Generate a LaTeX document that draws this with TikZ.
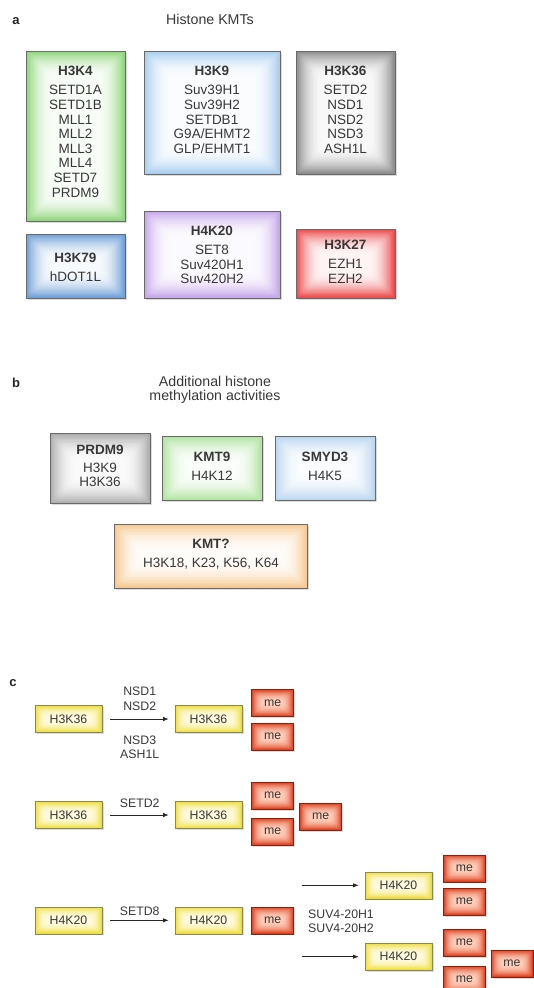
\documentclass[tikz,border=0pt]{standalone}
\usepackage{fontspec}
\setmainfont{Liberation Sans}
\usetikzlibrary{shadows,arrows.meta}
\definecolor{txtc}{HTML}{383838}
\definecolor{boxline}{HTML}{6A6A6A}
\definecolor{cgreen}{HTML}{8ED67A}
\definecolor{clblue}{HTML}{A8CDEF}
\definecolor{cgray}{HTML}{8C8C8C}
\definecolor{cblue}{HTML}{6F9FD8}
\definecolor{clav}{HTML}{C5A6EA}
\definecolor{cred}{HTML}{EC4A4A}
\definecolor{cgray2}{HTML}{ADADAD}
\definecolor{cgreen2}{HTML}{B0E4A0}
\definecolor{cblue2}{HTML}{BAD6F0}
\definecolor{cpeach}{HTML}{F6C890}
\definecolor{cyel}{HTML}{EEDC30}
\definecolor{cyelin}{HTML}{FFFCE6}
\definecolor{yelline}{HTML}{8A8A50}
\definecolor{cme}{HTML}{DD3A18}
\definecolor{cmein}{HTML}{FFD8C4}
\definecolor{meline}{HTML}{8A2210}
\tikzset{
  shd/.style={drop shadow={shadow xshift=1.5pt, shadow yshift=-1.5pt, opacity=0.28}},
  glowrect/.style n args={3}{fill=#1, path picture={
      \foreach \i [evaluate=\i as \p using {6+94*(1-\i/20)^2}, evaluate=\i as \r using {\i*#3/20}, evaluate=\i as \q using {min(\i*#3/20,3.5)}] in {1,...,20}{
        \fill[#1!\p!#2, rounded corners=\q pt] ([shift={(\r pt,-\r pt)}]path picture bounding box.north west)
          rectangle ([shift={(-\r pt,\r pt)}]path picture bounding box.south east);}}},
  kbox/.style={draw=boxline, line width=0.7pt, inner sep=0pt, shd, glowrect={#1}{white}{26}},
  boxtxt/.style={text=txtc, align=center, inner sep=0pt, font={\fontsize{13.5}{14.6}\selectfont}},
  yel/.style={draw=yelline, line width=0.6pt, inner sep=0pt, minimum width=67pt, minimum height=27pt,
    shd, glowrect={cyel}{cyelin}{11}, text=txtc, font={\fontsize{12.3}{14}\selectfont}},
  mebox/.style={draw=meline, line width=0.6pt, inner sep=0pt, minimum width=42pt, minimum height=27pt,
    shd, glowrect={cme}{cmein}{12}, text=txtc, font={\fontsize{12.3}{14}\selectfont}},
  lbl/.style={text=txtc, align=center, inner sep=0pt, font={\fontsize{12.3}{14.3}\selectfont}},
  arr/.style={draw=black!85, line width=0.6pt, -{Latex[length=5.5pt,width=4.2pt]}},
  plet/.style={font={\fontsize{13}{14}\selectfont\bfseries}, inner sep=0pt, text=black!85},
  ttl/.style={text=txtc, align=center, inner sep=0pt, font={\fontsize{14.2}{14.6}\selectfont}}
}
\begin{document}
\begin{tikzpicture}[x={(1pt,0pt)}, y={(0pt,-1pt)}]
\useasboundingbox[fill=white] (0,0) rectangle (533,988);

% ---------- panel a ----------
\node[plet] (la) at (16,21) {a};
\node[ttl] (ta) at (210,19.3) {Histone KMTs};

\node[kbox=cgreen, minimum width=99pt, minimum height=170pt] (k4) at (75.5,136) {};
\node[kbox=clblue, minimum width=136pt, minimum height=123pt] (k9) at (212,112.5) {};
\node[kbox=cgray, minimum width=99pt, minimum height=123pt] (k36) at (345.5,112.5) {};
\node[kbox=cblue, minimum width=99pt, minimum height=64pt] (k79) at (75.5,266) {};
\node[kbox=clav, minimum width=136pt, minimum height=87pt] (k20) at (212,254.5) {};
\node[kbox=cred, minimum width=99pt, minimum height=69pt] (k27) at (345.5,263.5) {};

\node[boxtxt, anchor=north] (k4t) at (75.5,66.2) {\textbf{H3K4}\\[4.4pt]SETD1A\\SETD1B\\MLL1\\MLL2\\MLL3\\MLL4\\SETD7\\PRDM9};
\node[boxtxt, anchor=north] (k9t) at (212,66.2) {\textbf{H3K9}\\[4.4pt]Suv39H1\\Suv39H2\\SETDB1\\G9A/EHMT2\\GLP/EHMT1};
\node[boxtxt, anchor=north] (k36t) at (345.5,66.2) {\textbf{H3K36}\\[4.4pt]SETD2\\NSD1\\NSD2\\NSD3\\ASH1L};
\node[boxtxt, anchor=north] (k79t) at (75.5,252.9) {\textbf{H3K79}\\[4.4pt]hDOT1L};
\node[boxtxt, anchor=north] (k20t) at (212,225.9) {\textbf{H4K20}\\[4.4pt]SET8\\Suv420H1\\Suv420H2};
\node[boxtxt, anchor=north] (k27t) at (345.5,240.2) {\textbf{H3K27}\\[4.4pt]EZH1\\EZH2};

% ---------- panel b ----------
\node[plet] (lb) at (16,382.7) {b};
\node[ttl] (tb) at (215,390) {Additional histone\\methylation activities};

\node[kbox=cgray2, minimum width=100pt, minimum height=70pt] (pr) at (100,468.7) {};
\node[kbox=cgreen2, minimum width=100pt, minimum height=64pt] (km9) at (212,468.5) {};
\node[kbox=cblue2, minimum width=100pt, minimum height=64pt] (sm) at (325,468.5) {};
\node[kbox=cpeach, minimum width=193pt, minimum height=64pt] (kq) at (211,556) {};

\node[boxtxt, anchor=north] (prt) at (100,444.5) {\textbf{PRDM9}\\[3.6pt]H3K9\\H3K36};
\node[boxtxt, anchor=north] (km9t) at (212,451.9) {\textbf{KMT9}\\[4.4pt]H4K12};
\node[boxtxt, anchor=north] (smt) at (325,451.9) {\textbf{SMYD3}\\[4.4pt]H4K5};
\node[boxtxt, anchor=north] (kqt) at (211,539.2) {\textbf{KMT?}\\[4.4pt]H3K18, K23, K56, K64};

% ---------- panel c ----------
\node[plet] (lc) at (13,682.7) {c};

% row 1
\node[yel] (a1) at (68.5,719) {H3K36};
\node[yel] (b1) at (208.5,719) {H3K36};
\node[mebox] (m1a) at (272.6,703) {me};
\node[mebox] (m1b) at (272.6,736.7) {me};
\draw[arr, shorten <=8pt, shorten >=6pt] (a1) -- (b1);
\node[lbl] (n12) at (139.7,698.9) {NSD1\\NSD2};
\node[lbl] (n3a) at (139.7,747.2) {NSD3\\ASH1L};

% row 2
\node[yel] (a2) at (68.5,815) {H3K36};
\node[yel] (b2) at (208.5,815) {H3K36};
\node[mebox] (m2a) at (272.6,795.7) {me};
\node[mebox] (m2b) at (272.6,831.7) {me};
\node[mebox] (m2c) at (320.7,816.7) {me};
\draw[arr, shorten <=8pt, shorten >=6pt] (a2) -- (b2);
\node[lbl] (s2) at (139.7,803.3) {SETD2};

% row 3
\node[yel] (a3) at (68.5,920.3) {H4K20};
\node[yel] (b3) at (208.5,920.3) {H4K20};
\node[mebox] (m3) at (272.6,920.3) {me};
\draw[arr, shorten <=8pt, shorten >=6pt] (a3) -- (b3);
\node[lbl] (s8) at (139.7,911) {SETD8};

% branches
\node[yel] (c1) at (398.5,885.3) {H4K20};
\node[mebox] (m4a) at (464.5,868.3) {me};
\node[mebox] (m4b) at (464.5,901.7) {me};
\coordinate (p1) at (302,885.3);
\draw[arr, shorten >=6pt] (p1) -- (c1);

\node[yel] (c2) at (398.5,956.7) {H4K20};
\node[mebox] (m5a) at (464.5,942.7) {me};
\node[mebox] (m5b) at (464.5,979.5) {me};
\node[mebox] (m5c) at (512,963.5) {me};
\coordinate (p2) at (302,956.7);
\draw[arr, shorten >=6pt] (p2) -- (c2);

\node[lbl, anchor=west, align=left] (suv) at (308,921.5) {SUV4-20H1\\SUV4-20H2};
\end{tikzpicture}
\end{document}
